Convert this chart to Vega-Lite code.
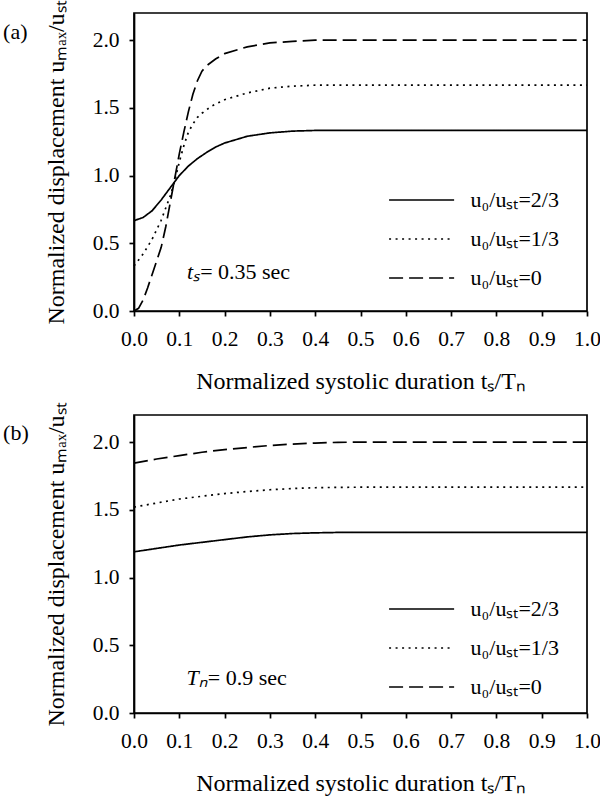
{
  "$schema": "https://vega.github.io/schema/vega-lite/v6.json",
  "padding": {"left": 2, "top": -1, "right": 10, "bottom": 0},
  "background": "white",
  "datasets": {
    "a": [
      {"x": 0.0, "y": 0.667, "r": "u₀/uₛₜ=2/3"},
      {"x": 0.02, "y": 0.69, "r": "u₀/uₛₜ=2/3"},
      {"x": 0.04, "y": 0.74, "r": "u₀/uₛₜ=2/3"},
      {"x": 0.06, "y": 0.82, "r": "u₀/uₛₜ=2/3"},
      {"x": 0.08, "y": 0.91, "r": "u₀/uₛₜ=2/3"},
      {"x": 0.10, "y": 1.0, "r": "u₀/uₛₜ=2/3"},
      {"x": 0.12, "y": 1.07, "r": "u₀/uₛₜ=2/3"},
      {"x": 0.14, "y": 1.125, "r": "u₀/uₛₜ=2/3"},
      {"x": 0.16, "y": 1.17, "r": "u₀/uₛₜ=2/3"},
      {"x": 0.18, "y": 1.21, "r": "u₀/uₛₜ=2/3"},
      {"x": 0.20, "y": 1.24, "r": "u₀/uₛₜ=2/3"},
      {"x": 0.25, "y": 1.29, "r": "u₀/uₛₜ=2/3"},
      {"x": 0.30, "y": 1.315, "r": "u₀/uₛₜ=2/3"},
      {"x": 0.35, "y": 1.328, "r": "u₀/uₛₜ=2/3"},
      {"x": 0.40, "y": 1.333, "r": "u₀/uₛₜ=2/3"},
      {"x": 0.60, "y": 1.333, "r": "u₀/uₛₜ=2/3"},
      {"x": 0.80, "y": 1.333, "r": "u₀/uₛₜ=2/3"},
      {"x": 1.0, "y": 1.333, "r": "u₀/uₛₜ=2/3"},
      {"x": 0.0, "y": 0.333, "r": "u₀/uₛₜ=1/3"},
      {"x": 0.02, "y": 0.42, "r": "u₀/uₛₜ=1/3"},
      {"x": 0.04, "y": 0.53, "r": "u₀/uₛₜ=1/3"},
      {"x": 0.06, "y": 0.67, "r": "u₀/uₛₜ=1/3"},
      {"x": 0.08, "y": 0.85, "r": "u₀/uₛₜ=1/3"},
      {"x": 0.09, "y": 0.96, "r": "u₀/uₛₜ=1/3"},
      {"x": 0.10, "y": 1.1, "r": "u₀/uₛₜ=1/3"},
      {"x": 0.11, "y": 1.22, "r": "u₀/uₛₜ=1/3"},
      {"x": 0.12, "y": 1.32, "r": "u₀/uₛₜ=1/3"},
      {"x": 0.13, "y": 1.38, "r": "u₀/uₛₜ=1/3"},
      {"x": 0.14, "y": 1.43, "r": "u₀/uₛₜ=1/3"},
      {"x": 0.15, "y": 1.46, "r": "u₀/uₛₜ=1/3"},
      {"x": 0.17, "y": 1.51, "r": "u₀/uₛₜ=1/3"},
      {"x": 0.20, "y": 1.56, "r": "u₀/uₛₜ=1/3"},
      {"x": 0.25, "y": 1.61, "r": "u₀/uₛₜ=1/3"},
      {"x": 0.30, "y": 1.645, "r": "u₀/uₛₜ=1/3"},
      {"x": 0.35, "y": 1.66, "r": "u₀/uₛₜ=1/3"},
      {"x": 0.40, "y": 1.667, "r": "u₀/uₛₜ=1/3"},
      {"x": 0.60, "y": 1.667, "r": "u₀/uₛₜ=1/3"},
      {"x": 0.80, "y": 1.667, "r": "u₀/uₛₜ=1/3"},
      {"x": 1.0, "y": 1.667, "r": "u₀/uₛₜ=1/3"},
      {"x": 0.0, "y": 0.0, "r": "u₀/uₛₜ=0"},
      {"x": 0.01, "y": 0.02, "r": "u₀/uₛₜ=0"},
      {"x": 0.02, "y": 0.08, "r": "u₀/uₛₜ=0"},
      {"x": 0.03, "y": 0.17, "r": "u₀/uₛₜ=0"},
      {"x": 0.04, "y": 0.27, "r": "u₀/uₛₜ=0"},
      {"x": 0.05, "y": 0.37, "r": "u₀/uₛₜ=0"},
      {"x": 0.06, "y": 0.47, "r": "u₀/uₛₜ=0"},
      {"x": 0.07, "y": 0.62, "r": "u₀/uₛₜ=0"},
      {"x": 0.08, "y": 0.80, "r": "u₀/uₛₜ=0"},
      {"x": 0.09, "y": 0.98, "r": "u₀/uₛₜ=0"},
      {"x": 0.10, "y": 1.16, "r": "u₀/uₛₜ=0"},
      {"x": 0.11, "y": 1.32, "r": "u₀/uₛₜ=0"},
      {"x": 0.12, "y": 1.47, "r": "u₀/uₛₜ=0"},
      {"x": 0.13, "y": 1.60, "r": "u₀/uₛₜ=0"},
      {"x": 0.14, "y": 1.70, "r": "u₀/uₛₜ=0"},
      {"x": 0.15, "y": 1.77, "r": "u₀/uₛₜ=0"},
      {"x": 0.16, "y": 1.81, "r": "u₀/uₛₜ=0"},
      {"x": 0.18, "y": 1.86, "r": "u₀/uₛₜ=0"},
      {"x": 0.20, "y": 1.90, "r": "u₀/uₛₜ=0"},
      {"x": 0.25, "y": 1.95, "r": "u₀/uₛₜ=0"},
      {"x": 0.30, "y": 1.98, "r": "u₀/uₛₜ=0"},
      {"x": 0.35, "y": 1.99, "r": "u₀/uₛₜ=0"},
      {"x": 0.40, "y": 2.0, "r": "u₀/uₛₜ=0"},
      {"x": 0.60, "y": 2.0, "r": "u₀/uₛₜ=0"},
      {"x": 0.80, "y": 2.0, "r": "u₀/uₛₜ=0"},
      {"x": 1.0, "y": 2.0, "r": "u₀/uₛₜ=0"}
    ],
    "b": [
      {"x": 0.0, "y": 1.19, "r": "u₀/uₛₜ=2/3"},
      {"x": 0.05, "y": 1.215, "r": "u₀/uₛₜ=2/3"},
      {"x": 0.10, "y": 1.24, "r": "u₀/uₛₜ=2/3"},
      {"x": 0.15, "y": 1.26, "r": "u₀/uₛₜ=2/3"},
      {"x": 0.20, "y": 1.28, "r": "u₀/uₛₜ=2/3"},
      {"x": 0.25, "y": 1.30, "r": "u₀/uₛₜ=2/3"},
      {"x": 0.30, "y": 1.315, "r": "u₀/uₛₜ=2/3"},
      {"x": 0.35, "y": 1.325, "r": "u₀/uₛₜ=2/3"},
      {"x": 0.40, "y": 1.33, "r": "u₀/uₛₜ=2/3"},
      {"x": 0.45, "y": 1.333, "r": "u₀/uₛₜ=2/3"},
      {"x": 0.70, "y": 1.333, "r": "u₀/uₛₜ=2/3"},
      {"x": 1.0, "y": 1.333, "r": "u₀/uₛₜ=2/3"},
      {"x": 0.0, "y": 1.52, "r": "u₀/uₛₜ=1/3"},
      {"x": 0.05, "y": 1.55, "r": "u₀/uₛₜ=1/3"},
      {"x": 0.10, "y": 1.58, "r": "u₀/uₛₜ=1/3"},
      {"x": 0.15, "y": 1.60, "r": "u₀/uₛₜ=1/3"},
      {"x": 0.20, "y": 1.62, "r": "u₀/uₛₜ=1/3"},
      {"x": 0.25, "y": 1.635, "r": "u₀/uₛₜ=1/3"},
      {"x": 0.30, "y": 1.648, "r": "u₀/uₛₜ=1/3"},
      {"x": 0.35, "y": 1.657, "r": "u₀/uₛₜ=1/3"},
      {"x": 0.40, "y": 1.663, "r": "u₀/uₛₜ=1/3"},
      {"x": 0.45, "y": 1.666, "r": "u₀/uₛₜ=1/3"},
      {"x": 0.50, "y": 1.667, "r": "u₀/uₛₜ=1/3"},
      {"x": 0.75, "y": 1.667, "r": "u₀/uₛₜ=1/3"},
      {"x": 1.0, "y": 1.667, "r": "u₀/uₛₜ=1/3"},
      {"x": 0.0, "y": 1.845, "r": "u₀/uₛₜ=0"},
      {"x": 0.05, "y": 1.875, "r": "u₀/uₛₜ=0"},
      {"x": 0.10, "y": 1.90, "r": "u₀/uₛₜ=0"},
      {"x": 0.15, "y": 1.925, "r": "u₀/uₛₜ=0"},
      {"x": 0.20, "y": 1.945, "r": "u₀/uₛₜ=0"},
      {"x": 0.25, "y": 1.96, "r": "u₀/uₛₜ=0"},
      {"x": 0.30, "y": 1.975, "r": "u₀/uₛₜ=0"},
      {"x": 0.35, "y": 1.985, "r": "u₀/uₛₜ=0"},
      {"x": 0.40, "y": 1.993, "r": "u₀/uₛₜ=0"},
      {"x": 0.45, "y": 1.998, "r": "u₀/uₛₜ=0"},
      {"x": 0.50, "y": 2.0, "r": "u₀/uₛₜ=0"},
      {"x": 0.75, "y": 2.0, "r": "u₀/uₛₜ=0"},
      {"x": 1.0, "y": 2.0, "r": "u₀/uₛₜ=0"}
    ]
  },
  "spacing": 6,
  "vconcat": [
    {
      "width": 453,
      "height": 298,
      "layer": [
        {
          "data": {"name": "a"},
          "mark": {"type": "line", "color": "black", "strokeWidth": 1.7},
          "encoding": {
            "x": {"field": "x", "type": "quantitative", "scale": {"domain": [0, 1], "nice": false},
                  "axis": {"values": [0, 0.1, 0.2, 0.3, 0.4, 0.5, 0.6, 0.7, 0.8, 0.9, 1.0], "format": ".1f", "title": "Normalized systolic duration tₛ/Tₙ"}},
            "y": {"field": "y", "type": "quantitative", "scale": {"domain": [0, 2.2], "nice": false},
                  "axis": {"values": [0, 0.5, 1, 1.5, 2], "format": ".1f", "title": "Normalized displacement uₘₐₓ/uₛₜ"}},
            "strokeDash": {"field": "r", "type": "nominal",
                           "scale": {"domain": ["u₀/uₛₜ=2/3", "u₀/uₛₜ=1/3", "u₀/uₛₜ=0"], "range": [[1, 0], [2, 4.5], [14, 6]]},
                           "legend": {"orient": "none", "legendX": 275.6, "legendY": 175, "title": null}}
          }
        },
        {
          "data": {"values": [{}]},
          "mark": {"type": "text", "font": "Liberation Serif", "fontSize": 22, "fontStyle": "italic", "align": "right", "baseline": "middle"},
          "encoding": {"x": {"datum": 0.146}, "y": {"datum": 0.29}, "text": {"value": "tₛ"}}
        },
        {
          "data": {"values": [{}]},
          "mark": {"type": "text", "font": "Liberation Serif", "fontSize": 22, "align": "left", "baseline": "middle"},
          "encoding": {"x": {"datum": 0.146}, "y": {"datum": 0.29}, "text": {"value": "= 0.35 sec"}}
        },
        {
          "data": {"values": [{}]},
          "mark": {"type": "text", "font": "Liberation Serif", "fontSize": 22, "align": "left", "baseline": "middle"},
          "encoding": {"x": {"datum": -0.289}, "y": {"datum": 2.06}, "text": {"value": "(a)"}}
        }
      ]
    },
    {
      "width": 453,
      "height": 298,
      "layer": [
        {
          "data": {"name": "b"},
          "mark": {"type": "line", "color": "black", "strokeWidth": 1.7},
          "encoding": {
            "x": {"field": "x", "type": "quantitative", "scale": {"domain": [0, 1], "nice": false},
                  "axis": {"values": [0, 0.1, 0.2, 0.3, 0.4, 0.5, 0.6, 0.7, 0.8, 0.9, 1.0], "format": ".1f", "title": "Normalized systolic duration tₛ/Tₙ"}},
            "y": {"field": "y", "type": "quantitative", "scale": {"domain": [0, 2.2], "nice": false},
                  "axis": {"values": [0, 0.5, 1, 1.5, 2], "format": ".1f", "title": "Normalized displacement uₘₐₓ/uₛₜ"}},
            "strokeDash": {"field": "r", "type": "nominal",
                           "scale": {"domain": ["u₀/uₛₜ=2/3", "u₀/uₛₜ=1/3", "u₀/uₛₜ=0"], "range": [[1, 0], [2, 4.5], [14, 6]]},
                           "legend": {"orient": "none", "legendX": 275.6, "legendY": 182, "title": null}}
          }
        },
        {
          "data": {"values": [{}]},
          "mark": {"type": "text", "font": "Liberation Serif", "fontSize": 22, "fontStyle": "italic", "align": "right", "baseline": "middle"},
          "encoding": {"x": {"datum": 0.163}, "y": {"datum": 0.26}, "text": {"value": "Tₙ"}}
        },
        {
          "data": {"values": [{}]},
          "mark": {"type": "text", "font": "Liberation Serif", "fontSize": 22, "align": "left", "baseline": "middle"},
          "encoding": {"x": {"datum": 0.163}, "y": {"datum": 0.26}, "text": {"value": "= 0.9 sec"}}
        },
        {
          "data": {"values": [{}]},
          "mark": {"type": "text", "font": "Liberation Serif", "fontSize": 22, "align": "left", "baseline": "middle"},
          "encoding": {"x": {"datum": -0.289}, "y": {"datum": 2.07}, "text": {"value": "(b)"}}
        }
      ]
    }
  ],
  "resolve": {"legend": {"strokeDash": "independent"}},
  "config": {
    "view": {"stroke": "black", "strokeWidth": 1.7},
    "axis": {
      "grid": false,
      "domainColor": "black", "domainWidth": 1.7,
      "tickColor": "black", "tickWidth": 1.7, "tickSize": 5,
      "labelColor": "black", "labelFont": "Liberation Serif", "labelFontSize": 21.5,
      "titleColor": "black", "titleFont": "Liberation Serif", "titleFontSize": 24, "titleFontWeight": "normal"
    },
    "axisX": {"labelPadding": 12, "titlePadding": 20, "labelFlush": false, "labelOverlap": false},
    "axisY": {"labelPadding": 10, "titlePadding": 24},
    "legend": {
      "labelFont": "Liberation Serif", "labelFontSize": 22, "labelColor": "black",
      "symbolType": "M-3,0H3", "symbolSize": 470, "symbolStrokeWidth": 1.7, "symbolStrokeColor": "black",
      "rowPadding": 16, "labelOffset": 37, "padding": 0
    }
  }
}
